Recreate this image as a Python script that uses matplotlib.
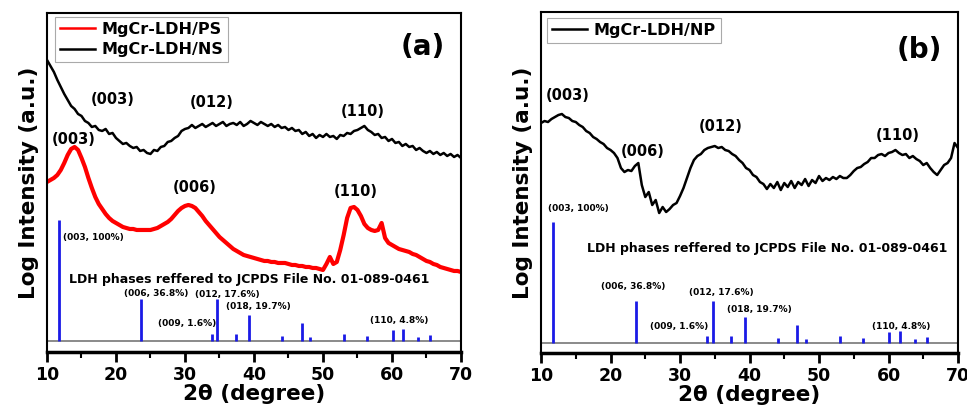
import numpy as np
import matplotlib
matplotlib.use('Agg')
import matplotlib.pyplot as plt

plt.rcParams['font.family'] = 'DejaVu Sans'
plt.rcParams['font.weight'] = 'bold'

# 2theta grid shared by all scans (0.5 degree steps, 10-70)
two_theta = np.arange(10, 70.01, 0.5)

# MgCr-LDH/NS (black, panel a)
ns = [300, 294, 288, 280, 273, 266, 260, 254, 251, 246, 244, 239, 237, 233, 234, 230, 229, 231, 226, 227,
      222, 219, 216, 217, 214, 212, 213, 209, 210, 207, 206, 210, 209, 213, 214, 218, 219, 222, 224, 229,
      231, 232, 235, 232, 234, 236, 233, 235, 237, 234, 236, 238, 234, 236, 237, 235, 238, 234, 236, 239,
      237, 235, 238, 236, 234, 236, 233, 235, 232, 233, 230, 232, 229, 230, 226, 228, 224, 226, 222, 225,
      223, 226, 223, 224, 221, 225, 224, 227, 226, 229, 230, 232, 234, 230, 228, 225, 226, 222, 223, 219,
      221, 217, 218, 214, 216, 213, 214, 210, 212, 209, 207, 209, 206, 208, 205, 207, 204, 206, 203, 205,
      202]

# MgCr-LDH/PS (red, panel a)
ps = [178, 180, 182, 185, 190, 197, 205, 211, 213, 210, 202, 193, 182, 172, 163, 156, 151, 146, 142, 139,
      137, 135, 133, 132, 131, 131, 130, 130, 130, 130, 130, 131, 132, 134, 136, 138, 141, 145, 149, 152,
      154, 155, 154, 152, 148, 144, 139, 135, 131, 127, 123, 120, 117, 114, 111, 109, 107, 105, 104, 103,
      102, 101, 100, 99, 99, 98, 98, 97, 97, 97, 96, 95, 95, 94, 94, 93, 93, 92, 92, 91,
      90, 96, 103, 96, 98, 110, 125, 142, 152, 153, 150, 144, 136, 132, 130, 129, 130, 137, 122, 117,
      115, 113, 111, 110, 109, 108, 106, 105, 103, 101, 99, 98, 96, 95, 93, 92, 91, 90, 89, 89,
      88]

# MgCr-LDH/NP (black, panel b)
np_scan = [237, 239, 238, 241, 243, 245, 246, 243, 242, 239, 238, 235, 233, 229, 227, 223, 221, 218, 216, 212,
           210, 207, 202, 192, 188, 190, 189, 194, 197, 175, 163, 168, 155, 160, 147, 153, 148, 151, 155, 157,
           164, 172, 182, 192, 200, 204, 206, 210, 212, 213, 214, 212, 213, 210, 209, 206, 204, 200, 197, 192,
           190, 185, 183, 178, 176, 171, 176, 172, 178, 170, 177, 173, 179, 172, 178, 175, 181, 174, 180, 177,
           184, 179, 182, 180, 183, 181, 184, 182, 182, 185, 189, 192, 193, 196, 198, 202, 202, 205, 206, 204,
           207, 208, 210, 207, 205, 206, 202, 204, 201, 199, 195, 197, 192, 188, 185, 190, 195, 197, 202, 217,
           212]

# JCPDS 01-089-0461 reference sticks
stick_pos = [11.7, 23.6, 33.9, 34.7, 37.4, 39.3, 44.1, 46.9, 48.1, 53.0, 56.4, 60.1, 61.6, 63.8, 65.5]
stick_h = [121, 42, 7, 42, 7, 26, 5, 18, 4, 7, 5, 11, 12, 4, 6]

stick_labels = ['(003, 100%)', '(006, 36.8%)', '(009, 1.6%)', '(012, 17.6%)', '(018, 19.7%)', '(110, 4.8%)']
jcpds_text = 'LDH phases reffered to JCPDS File No. 01-089-0461'

fig = plt.figure(figsize=(9.67, 4.09), dpi=100)
ax1 = fig.add_axes([0.0486, 0.1394, 0.4281, 0.8289])
ax2 = fig.add_axes([0.5595, 0.1369, 0.4312, 0.8337])


def style_axis(ax, ylim, base):
    ax.set_xlim(10, 70)
    ax.set_ylim(*ylim)
    ax.set_xticks([10, 20, 30, 40, 50, 60, 70])
    ax.set_xticks([15, 25, 35, 45, 55, 65], minor=True)
    ax.set_yticks([])
    ax.tick_params(axis='x', which='major', direction='out', length=7, width=2, labelsize=12.5, pad=3)
    ax.tick_params(axis='x', which='minor', direction='out', length=4, width=1.5)
    for t in ax.get_xticklabels():
        t.set_fontweight('bold')
    for s in ['left', 'top', 'right']:
        ax.spines[s].set_linewidth(1.5)
    ax.spines['bottom'].set_linewidth(2.5)
    ax.set_xlabel('2\u03b8 (degree)', fontsize=15.5, fontweight='bold', labelpad=0)
    ax.set_ylabel('Log Intensity (a.u.)', fontsize=15.5, fontweight='bold', labelpad=6)
    ax.axhline(base, color='#777777', lw=1.2)
    ax.vlines(stick_pos, base, [base + h for h in stick_h], color='#1a1ae6', lw=2)


def make_legend(ax, anchor, spacing):
    leg = ax.legend(loc='upper left', bbox_to_anchor=anchor, borderaxespad=0, fancybox=False,
                    edgecolor='#aaaaaa', framealpha=1, handlelength=2.2, handletextpad=0.4,
                    borderpad=0.3, labelspacing=spacing, prop={'size': 11.5, 'weight': 'bold'})
    leg.get_frame().set_linewidth(0.8)
    for line in leg.get_lines():
        line.set_linewidth(1.8)


# panel (a)
base_a = 19
style_axis(ax1, (8, 347), base_a)
ax1.plot(two_theta, ps, color='#ff0000', lw=3, label='MgCr-LDH/PS')
ax1.plot(two_theta, ns, color='black', lw=1.8, label='MgCr-LDH/NS')
make_legend(ax1, (0.019, 0.988), 0.35)
ax1.text(64.5, 313, '(a)', fontsize=20, fontweight='bold', ha='center', va='center')

for x, y, s in [(19.5, 260, '(003)'), (33.8, 257, '(012)'), (55.8, 248, '(110)'),
                (13.8, 220, '(003)'), (31.4, 172, '(006)'), (54.8, 168, '(110)')]:
    ax1.text(x, y, s, fontsize=10.5, fontweight='bold', ha='center', va='center')

for x, y, s in zip([12.3, 25.8, 30.3, 36.2, 40.7, 61.0], [122, 66, 36, 65, 53, 39], stick_labels):
    ax1.text(x, y, s, fontsize=6.5, fontweight='bold', ha='left' if s.startswith('(003') else 'center',
             va='center')
ax1.text(39.3, 80, jcpds_text, fontsize=9, fontweight='bold', ha='center', va='center')

# panel (b)
base_b = 17
style_axis(ax2, (7, 348), base_b)
ax2.plot(two_theta, np_scan, color='black', lw=1.8, label='MgCr-LDH/NP')
make_legend(ax2, (0.015, 0.982), 0.3)
ax2.text(64.5, 310, '(b)', fontsize=20, fontweight='bold', ha='center', va='center')

for x, y, s in [(13.9, 265, '(003)'), (24.6, 209, '(006)'), (35.8, 234, '(012)'), (61.4, 225, '(110)')]:
    ax2.text(x, y, s, fontsize=10.5, fontweight='bold', ha='center', va='center')

for x, y, s in zip([11.0, 23.2, 29.9, 36.0, 41.4, 61.8], [152, 74, 34, 68, 51, 34], stick_labels):
    ax2.text(x, y, s, fontsize=6.5, fontweight='bold', ha='left' if s.startswith('(003') else 'center',
             va='center')
ax2.text(42.5, 112, jcpds_text, fontsize=9, fontweight='bold', ha='center', va='center')

fig.savefig('out.png', dpi=100)
